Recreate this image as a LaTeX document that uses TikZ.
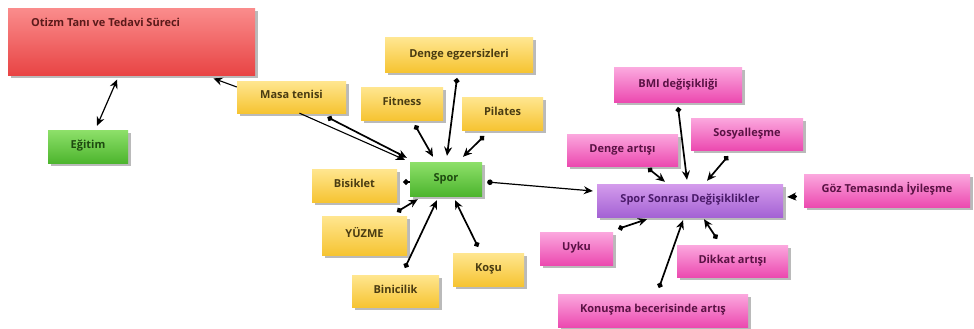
\documentclass[tikz,border=0pt]{standalone}
\usepackage{fontspec}
\setmainfont{Open Sans}
\usetikzlibrary{shadows,arrows.meta}
\definecolor{ytop}{HTML}{FFE690}
\definecolor{ybot}{HTML}{F6C432}
\definecolor{gtop}{HTML}{8EE06A}
\definecolor{gbot}{HTML}{4DB52E}
\definecolor{ptop}{HTML}{FBA8DE}
\definecolor{pbot}{HTML}{EC4AB0}
\definecolor{vtop}{HTML}{D49CEC}
\definecolor{vbot}{HTML}{A462D4}
\definecolor{rtop}{HTML}{FA8C8C}
\definecolor{rbot}{HTML}{E84444}
\definecolor{ytxt}{HTML}{4A3C12}
\definecolor{ptxt}{HTML}{5A1244}
\definecolor{gtxt}{HTML}{1E4A10}
\definecolor{rtxt}{HTML}{5A1A1A}
\definecolor{vtxt}{HTML}{4A1A6A}
\tikzset{
  box/.style={rectangle, inner sep=0pt, font=\bfseries\fontsize{11}{13}\selectfont,
    text height=8pt, text depth=4pt,
    drop shadow={shadow xshift=2.5pt, shadow yshift=-2.5pt, opacity=0.45, fill=black!60}},
  ybox/.style={box, top color=ytop, bottom color=ybot, text=ytxt},
  gbox/.style={box, top color=gtop, bottom color=gbot, text=gtxt},
  pbox/.style={box, top color=ptop, bottom color=pbot, text=ptxt},
  vbox/.style={box, top color=vtop, bottom color=vbot, text=vtxt},
  rbox/.style={box, top color=rtop, bottom color=rbot, text=rtxt},
  conn/.style={{Circle[length=5.5pt]}-{Stealth[length=9pt,width=8pt]}, line width=1.7pt, black},
  thinconn/.style={-{Stealth[length=9pt,width=8pt]}, line width=1.1pt, black},
}
\newcommand{\bx}[7]{\node[#1, minimum width=#6-#4, minimum height=#7-#5] (#2) at ({(#4+#6)/2},{(#5+#7)/2}) {#3};}
\begin{document}
\begin{tikzpicture}[x=1pt,y=-1pt]
\useasboundingbox[fill=white] (0,0) rectangle (974,329);
% boxes
\node[rbox, minimum width=247, minimum height=67, anchor=north west] (otizm) at (8,8) {};
\node[anchor=west, font=\bfseries\fontsize{11}{13}\selectfont, text=rtxt, inner sep=0pt] (otizmtxt) at (31,22) {Otizm Tanı ve Tedavi Süreci};
\bx{gbox}{egitim}{Eğitim}{48}{130}{128}{163}
\bx{ybox}{masa}{Masa tenisi}{237}{81}{346}{113}
\bx{ybox}{dengeegz}{Denge egzersizleri}{385}{38}{533}{72}
\bx{ybox}{fitness}{Fitness}{361}{87}{443}{120}
\bx{ybox}{pilates}{Pilates}{462}{97}{543}{130}
\bx{gbox}{spor}{Spor}{410}{162}{482}{196}
\bx{ybox}{bisiklet}{Bisiklet}{312}{169}{397}{202}
\bx{ybox}{yuzme}{YÜZME}{322}{216}{407}{255}
\bx{ybox}{binicilik}{Binicilik}{352}{275}{439}{307}
\bx{ybox}{kosu}{Koşu}{453}{253}{524}{286}
\bx{vbox}{ssd}{Spor Sonrası Değişiklikler}{597}{184}{783}{217}
\bx{pbox}{bmi}{BMI değişikliği}{614}{68}{742}{102}
\bx{pbox}{sosyal}{Sosyalleşme}{691}{118}{803}{150}
\bx{pbox}{dengeart}{Denge artışı}{567}{134}{678}{166}
\bx{pbox}{goz}{Göz Temasında İyileşme}{804}{174}{970}{207}
\bx{pbox}{uyku}{Uyku}{540}{232}{613}{265}
\bx{pbox}{dikkat}{Dikkat artışı}{677}{245}{788}{277}
\bx{pbox}{konusma}{Konuşma becerisinde artış}{558}{294}{748}{327}
% connectors
\draw[{Stealth[length=9pt,width=8pt]}-{Stealth[length=9pt,width=8pt]}, line width=1.2pt]
  ([xshift=9pt,yshift=4pt]egitim.north) -- ([xshift=-14.5pt,yshift=-4pt]otizm.south);
\draw[thinconn] ([yshift=10pt]masa.west) -- ([xshift=-42pt,yshift=-3pt]otizm.south east);
\draw[thinconn] ([xshift=8pt]masa.south) -- ([xshift=-5pt,yshift=2pt]spor.north west);
\draw[conn] ([xshift=36pt,yshift=-4pt]masa.south) -- ([xshift=-3pt,yshift=4pt]spor.north west);
\draw[conn] ([xshift=13pt,yshift=-5pt]fitness.south) -- ([xshift=-13pt,yshift=5pt]spor.north);
\draw[conn] ([xshift=-2pt,yshift=-6pt]dengeegz.south) -- ([xshift=1pt,yshift=6pt]spor.north);
\draw[conn] ([xshift=-18.5pt,yshift=-6pt]pilates.south) -- ([xshift=17pt,yshift=5pt]spor.north);
\draw[{Circle[length=5.5pt]}-, line width=1.7pt] ([xshift=6pt,yshift=3.5pt]bisiklet.east) -- ([yshift=-3pt]spor.west);
\draw[conn] ([xshift=32.5pt,yshift=4pt]yuzme.north) -- ([xshift=8pt,yshift=-3pt]spor.south west);
\draw[conn] ([xshift=9.5pt,yshift=7pt]binicilik.north) -- ([xshift=-9pt,yshift=-4pt]spor.south);
\draw[conn] ([xshift=-10.5pt,yshift=6pt]kosu.north) -- ([xshift=9pt,yshift=-4pt]spor.south);
\draw[conn, line width=1.2pt] ([xshift=5pt,yshift=-3pt]spor.east) -- ([xshift=-4pt,yshift=9.5pt]ssd.west);
\draw[conn] ([yshift=-5pt]bmi.south) -- ([xshift=-3pt,yshift=4pt]ssd.north);
\draw[conn] ([xshift=25.5pt,yshift=-2pt]dengeart.south) -- ([xshift=-25pt,yshift=2pt]ssd.north);
\draw[conn] ([xshift=-19pt,yshift=-6pt]sosyal.south) -- ([xshift=17pt,yshift=3pt]ssd.north);
\draw[conn] ([xshift=-7pt,yshift=-6pt]goz.west) -- ([xshift=4pt,yshift=3.5pt]ssd.east);
\draw[conn] ([xshift=5pt,yshift=3pt]uyku.north east) -- ([xshift=-43pt,yshift=-2pt]ssd.south);
\draw[conn] ([xshift=-15.5pt,yshift=6pt]dikkat.north) -- ([xshift=14pt,yshift=-2pt]ssd.south);
\draw[conn] ([xshift=6pt,yshift=6pt]konusma.north) -- ([xshift=-7pt,yshift=-3pt]ssd.south);
\end{tikzpicture}
\end{document}
